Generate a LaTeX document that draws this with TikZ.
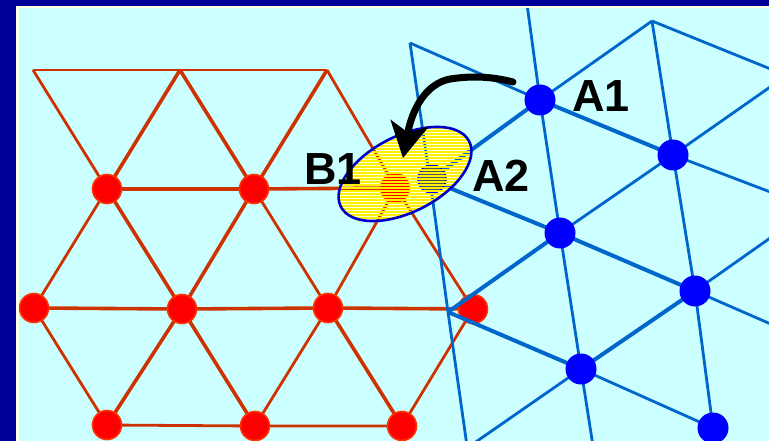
\documentclass[tikz,border=0pt]{standalone}
\usepackage{fontspec}
\setmainfont{Liberation Sans}
\usetikzlibrary{arrows.meta}
\definecolor{bg}{HTML}{CCFFFF}
\definecolor{framecol}{HTML}{000099}
\definecolor{redline}{HTML}{CC3300}
\definecolor{reddot}{HTML}{FF0000}
\definecolor{redrim}{HTML}{FF3300}
\definecolor{blueline}{HTML}{0066CC}
\definecolor{bluedot}{HTML}{0000FF}
\definecolor{greydot}{HTML}{505050}
\definecolor{ellrim}{HTML}{0000CC}
\definecolor{pale}{HTML}{FFFFDD}
\definecolor{edgepale}{HTML}{FFFFE6}
\begin{document}
\begin{tikzpicture}[x=1pt,y=-1pt,
  rl/.style={draw=redline, line width=2.8},
  rlt/.style={draw=redline, line width=3.6},
  bl/.style={draw=blueline, line width=2.8},
  blt/.style={draw=blueline, line width=4},
  rdot/.style={circle, fill=reddot, draw=redrim, line width=1.6, minimum size=29, inner sep=0},
  bdot/.style={circle, fill=bluedot, minimum size=31, inner sep=0},
  gdot/.style={circle, fill=greydot, draw=bluedot, line width=1.6, minimum size=28, inner sep=0},
  lab/.style={font=\fontsize{45}{45}\selectfont\bfseries, inner sep=0, text=black},
  ellshape/.style={shift={(405,174)}, rotate=27}
]
\useasboundingbox (0,0) rectangle (769,441);
\clip (0,0) rectangle (769,441);
\fill[bg] (0,0) rectangle (769,441);

% pale interior of the ellipse
\fill[pale, ellshape] (0,0) ellipse [x radius=72, y radius=38];

% red lattice points
\coordinate (T1) at (33,70);
\coordinate (T2) at (180,70);
\coordinate (T3) at (327,70);
\coordinate (R1) at (107,189);
\coordinate (R2) at (254,189);
\coordinate (B1) at (396,188);
\coordinate (M1) at (34,308);
\coordinate (M2) at (182,309);
\coordinate (M3) at (328,308);
\coordinate (M4) at (473,309);
\coordinate (D1) at (107,425);
\coordinate (D2) at (255,426);
\coordinate (D3) at (402,426);

% red edges
\draw[rl] (T1) -- (T2) -- (T3);
\draw[rl] (T1) -- (R1);
\draw[rlt] (T2) -- (R1);
\draw[rlt] (T2) -- (R2);
\draw[rlt] (T3) -- (R2);
\draw[rl] (T3) -- (B1);
\draw[rlt] (R1) -- (R2) -- (B1);
\draw[rl] (R1) -- (M1);
\draw[rlt] (R1) -- (M2);
\draw[rlt] (R2) -- (M2);
\draw[rl] (R2) -- (M3);
\draw[rl] (B1) -- (M3);
\draw[rl] (B1) -- (M4);
\draw[rlt] (M1) -- (M2) -- (M3) -- (M4);
\draw[rl] (M1) -- (D1);
\draw[rlt] (M2) -- (D1);
\draw[rlt] (M2) -- (D2);
\draw[rl] (M3) -- (D2);
\draw[rlt] (M3) -- (D3);
\draw[rl] (M4) -- (D3);
\draw[rl] (D1) -- (D2) -- (D3);

% red dots
\foreach \p in {R1,R2,M1,M2,M3,M4,D1,D2,D3}
  \node[rdot] (n\p) at (\p) {};
\node[rdot] (nB1) at (395,188) {};

% blue lattice points
\coordinate (V0) at (410,43);
\coordinate (V1) at (652,21);
\coordinate (A1) at (540,100);
\coordinate (V2) at (673,155);
\coordinate (A2) at (430,180);
\coordinate (V3) at (560,233);
\coordinate (V4) at (695,291);
\coordinate (V5) at (448,312);
\coordinate (V6) at (581,369);
\coordinate (V7) at (713,428);
% free ends at the picture's edges
\coordinate (ctop) at (527,4);
\coordinate (cbotA) at (467,446);
\coordinate (cbotB) at (593,446);
\coordinate (cbotC) at (715,446);
\coordinate (rA) at (773,70);
\coordinate (rB) at (773,193);
\coordinate (rC) at (773,325);
\coordinate (dA) at (773,85);
\coordinate (dB) at (470,446);
\coordinate (dC) at (773,236);

% blue edges
\draw[bl] (V0) -- (A1);
\draw[blt] (A1) -- (V2);
\draw[bl] (V2) -- (rB);
\draw[bl] (V1) -- (rA);
\draw[bl] (V0) -- (A2) -- (V5) -- (cbotA);
\draw[bl] (ctop) -- (A1) -- (V3) -- (V6) -- (cbotB);
\draw[bl] (V1) -- (V2) -- (V4) -- (V7) -- (cbotC);
\draw[blt] (A2) -- (V3) -- (V4);
\draw[bl] (V4) -- (rC);
\draw[blt] (V5) -- (V6);
\draw[bl] (V6) -- (V7);
\draw[blt] (A2) -- (A1);
\draw[bl] (A1) -- (V1);
\draw[blt] (V5) -- (V3);
\draw[bl] (V3) -- (V2) -- (dA);
\draw[bl] (dB) -- (V6);
\draw[blt] (V6) -- (V4);
\draw[bl] (V4) -- (dC);

% blue dots
\foreach \p in {A1,V2,V3,V4,V6,V7}
  \node[bdot] (n\p) at (\p) {};
\node[gdot] (nA2) at (432,179) {};

% yellow hatching of the ellipse
\begin{scope}
  \clip[ellshape] (0,0) ellipse [x radius=72, y radius=38];
  \foreach \y in {119,122,...,232}
    \draw[yellow, line width=2] (320,\y) -- (490,\y);
\end{scope}
\draw[ellrim, line width=2.6, ellshape] (0,0) ellipse [x radius=72, y radius=38];

% curved arrow
\coordinate (arrS) at (513,82);
\coordinate (arrM) at (450,79);
\coordinate (arrE) at (403,158);
\draw[line width=7, line cap=round, -{Stealth[length=35, width=38, inset=9]}]
  (arrS) .. controls (490,76) and (470,76) .. (arrM)
         .. controls (425,84) and (412,110) .. (arrE);

% frame
\fill[edgepale] (16,6) rectangle (769,8.5);
\fill[edgepale] (16,6) rectangle (18.5,441);
\fill[framecol] (0,0) rectangle (769,6);
\fill[framecol] (0,0) rectangle (16,441);

% labels
\node[lab] (labA1) at (601,96) {A1};
\node[lab] (labA2) at (501,176) {A2};
\node[lab] (labB1) at (333,169) {B1};
\end{tikzpicture}
\end{document}
